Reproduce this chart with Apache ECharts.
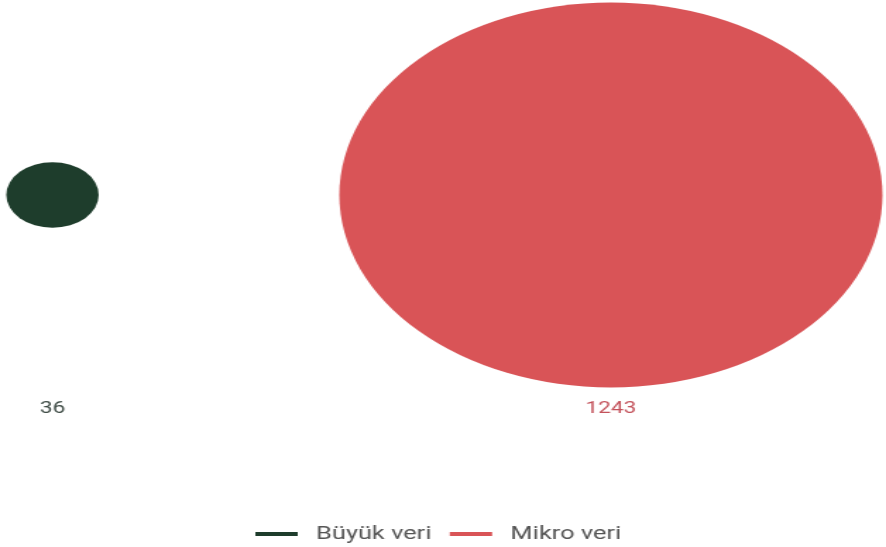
<!DOCTYPE html>
<html><head><meta charset="utf-8">
<script src="https://cdn.jsdelivr.net/npm/echarts@6/dist/echarts.min.js"></script>
<style>
html,body{margin:0;padding:0;background:#fff;overflow:hidden;}
#wrap{width:886px;height:547px;overflow:hidden;}
#chart{width:628px;height:547px;transform:scaleX(1.41083);transform-origin:0 0;}
</style></head><body><div id="wrap"><div id="chart"></div></div>
<script>
const categories = ['Büyük veri', 'Mikro veri'];
const values = [36, 1243];
const fillColors = ['#1e3d2c', '#d95457'];
const labelColors = ['#3d4a44', '#c4535c'];

const chart = echarts.init(document.getElementById('chart'));
const sizeOf = v => 10.92 * Math.sqrt(v);

const series = categories.map((c, i) => ({
  name: c,
  type: 'scatter',
  data: [[c, 0, values[i]]],
  symbol: 'circle',
  symbolSize: d => sizeOf(d[2]),
  itemStyle: { color: fillColors[i], opacity: 1 },
  emphasis: { disabled: true }
}));

chart.setOption({
  animation: false,
  backgroundColor: '#ffffff',
  grid: { left: 37.2, right: 195, top: 0, bottom: 157 },
  xAxis: {
    type: 'category',
    data: categories,
    boundaryGap: false,
    axisLine: { show: false },
    axisTick: { show: false },
    splitLine: { show: false },
    axisLabel: {
      margin: 11,
      fontFamily: 'Roboto',
      fontSize: 16,
      formatter: (v, idx) => String(values[idx]),
      color: (v, idx) => labelColors[categories.indexOf(v)]
    }
  },
  yAxis: { type: 'value', min: -1, max: 1, show: false },
  legend: {
    data: categories,
    bottom: -1,
    left: 176,
    icon: 'rect',
    itemWidth: 30,
    itemHeight: 4,
    itemGap: 13,
    selectedMode: false,
    textStyle: { fontFamily: 'Roboto', fontSize: 18, color: '#555555', padding: [0, 0, 0, 8] }
  },
  series: series
});
</script></body></html>
